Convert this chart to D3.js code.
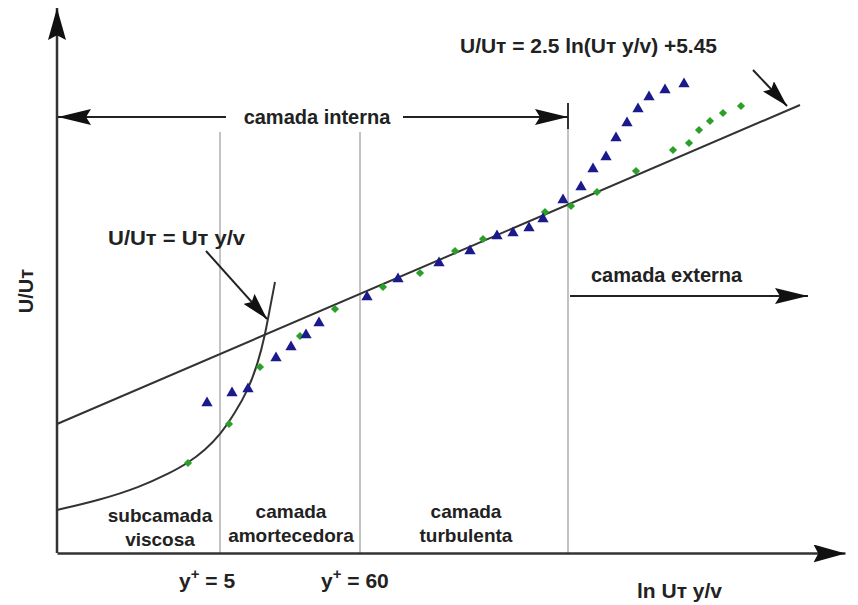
<!DOCTYPE html>
<html>
<meta charset="utf-8">
<style>
  body { margin: 0; background: #fff; }
  text {
    font-family: "Liberation Sans", Arial, sans-serif;
    font-weight: bold;
    font-size: 19px;
    fill: #222;
  }
  .axis path { stroke: #333; stroke-width: 2.5; }
  .zone { stroke: #b4b4b4; stroke-width: 1.6; }
  .law { fill: none; stroke: #333; stroke-width: 2; }
  .tri { fill: #1a1a8c; }
  .dia { fill: #2aa02a; }
</style>

<body>
  <script src="https://d3js.org/d3.v7.min.js"></script>

  <script>
    // measured series (x = ln Ut y/v, y = U/Ut, schematic units)
    let triX = [3.00, 3.50, 3.82, 4.38, 4.68, 4.98, 5.24, 6.20, 6.82, 7.64, 8.26, 8.80, 9.12, 9.44, 9.72,
      10.12, 10.48, 10.72, 10.98, 11.18, 11.40, 11.62, 11.84, 12.16, 12.54];
    let triY = [7.50, 8.00, 8.20, 9.75, 10.30, 10.90, 11.50, 12.80, 13.70, 14.50, 15.10, 15.85, 16.00, 16.25, 16.70,
      17.65, 18.30, 19.20, 19.80, 20.75, 21.50, 22.20, 22.80, 23.15, 23.45];

    let diaX = [2.62, 3.44, 4.06, 4.86, 5.56, 6.52, 7.26, 7.96, 8.52, 9.76, 10.28, 10.80, 11.58, 12.32, 12.64,
      12.84, 13.06, 13.32, 13.68];
    let diaY = [4.50, 6.45, 9.30, 10.85, 12.20, 13.30, 14.00, 15.10, 15.70, 17.05, 17.35, 18.05, 19.10, 20.15, 20.50,
      21.15, 21.60, 22.00, 22.35];

    // log law line end points
    let logX = [0, 14.86];
    let logY = [6.45, 22.4];

    // viscous sublayer curve
    let viscX = [0, 0.86, 1.66, 2.26, 2.62, 2.96, 3.26, 3.56, 3.82, 4.02, 4.16, 4.26, 4.36];
    let viscY = [2.15, 2.65, 3.30, 4.00, 4.50, 5.15, 5.90, 7.00, 8.15, 9.50, 10.90, 12.25, 13.55];

    // zone borders (y+ = 5, y+ = 60, edge of inner layer)
    let zoneX = [3.26, 6.06, 10.22];
    let zoneTop = [21.05, 21.05, 22.5];

    let zoneNames = [["subcamada", "viscosa"], ["camada", "amortecedora"], ["camada", "turbulenta"]];
    let yPlusLabels = ["5", "60"];

    let width = 858,
      height = 605;

    let x = d3.scaleLinear().domain([0, 15.76]).range([57, 845]);
    let y = d3.scaleLinear().domain([0, 27.25]).range([553, 8]);

    let svg = d3.select("body").append("svg")
      .attr("width", width)
      .attr("height", height);

    let defs = svg.append("defs");
    function marker(id, len, half) {
      defs.append("marker")
        .attr("id", id)
        .attr("markerUnits", "userSpaceOnUse")
        .attr("viewBox", `0 ${-half} ${len} ${half * 2}`)
        .attr("refX", len)
        .attr("refY", 0)
        .attr("markerWidth", len)
        .attr("markerHeight", half * 2)
        .attr("orient", "auto")
        .append("path")
        .attr("d", `M0,${-half}L${len},0L0,${half}L${len * 0.15},0Z`)
        .attr("fill", "#111");
    }
    marker("axisHead", 32, 9);
    marker("head", 33, 8);
    marker("callHead", 27, 7.5);

    // zone borders
    svg.selectAll(".zone")
      .data(zoneX)
      .join("line")
      .attr("class", "zone")
      .attr("x1", d => x(d))
      .attr("x2", d => x(d))
      .attr("y1", (d, i) => y(zoneTop[i]))
      .attr("y2", y(0));

    // dark tick on top of the inner layer edge
    svg.append("line")
      .attr("x1", x(zoneX[2])).attr("x2", x(zoneX[2]))
      .attr("y1", y(zoneTop[2])).attr("y2", y(zoneTop[2]) + 26)
      .attr("stroke", "#333").attr("stroke-width", 2);

    // axes, no ticks, arrow at the end
    let xAxis = svg.append("g")
      .attr("class", "axis")
      .attr("transform", `translate(0,${y(0)})`)
      .call(d3.axisBottom(x).tickValues([]).tickSizeOuter(0));
    xAxis.select(".domain").attr("marker-end", "url(#axisHead)");

    let yAxis = svg.append("g")
      .attr("class", "axis")
      .attr("transform", `translate(${x(0)},0)`)
      .call(d3.axisLeft(y).tickValues([]).tickSizeOuter(0));
    yAxis.select(".domain")
      .attr("d", `M0,${y(0)}V${y(27.25)}`)
      .attr("marker-end", "url(#axisHead)");

    // log law and viscous law
    let line = d3.line().x(d => x(d[0])).y(d => y(d[1]));
    svg.append("path")
      .attr("class", "law")
      .attr("d", line(d3.zip(logX, logY)));
    svg.append("path")
      .attr("class", "law")
      .attr("d", line.curve(d3.curveBasis)(d3.zip(viscX, viscY)));

    // data points
    svg.selectAll(".dia")
      .data(d3.zip(diaX, diaY))
      .join("path")
      .attr("class", "dia")
      .attr("d", d3.symbol(d3.symbolSquare, 34))
      .attr("transform", d => `translate(${x(d[0])},${y(d[1])}) rotate(45)`);

    svg.selectAll(".tri")
      .data(d3.zip(triX, triY))
      .join("path")
      .attr("class", "tri")
      .attr("d", d3.symbol(d3.symbolTriangle, 55))
      .attr("transform", d => `translate(${x(d[0])},${y(d[1])})`);

    // camada interna arrows
    let innerY = 117;
    svg.append("line")
      .attr("x1", 226).attr("x2", x(0) + 1)
      .attr("y1", innerY).attr("y2", innerY)
      .attr("stroke", "#222").attr("stroke-width", 2)
      .attr("marker-end", "url(#head)");
    svg.append("line")
      .attr("x1", 403).attr("x2", x(zoneX[2]))
      .attr("y1", innerY).attr("y2", innerY)
      .attr("stroke", "#222").attr("stroke-width", 2)
      .attr("marker-end", "url(#head)");
    svg.append("text")
      .attr("x", 317).attr("y", innerY + 7)
      .attr("text-anchor", "middle")
      .style("font-size", "20px")
      .text("camada interna");

    // camada externa arrow
    svg.append("line")
      .attr("x1", x(zoneX[2]) + 2).attr("x2", 808)
      .attr("y1", 296).attr("y2", 296)
      .attr("stroke", "#222").attr("stroke-width", 2)
      .attr("marker-end", "url(#head)");
    svg.append("text")
      .attr("x", 591).attr("y", 282)
      .style("font-size", "20px")
      .text("camada externa");

    // callouts
    svg.append("text")
      .attr("x", 108).attr("y", 245)
      .style("font-size", "21px")
      .attr("textLength", 137).attr("lengthAdjust", "spacingAndGlyphs")
      .text("U/Uт = Uт y/v");
    svg.append("line")
      .attr("x1", 206).attr("y1", 251)
      .attr("x2", 267).attr("y2", 319)
      .attr("stroke", "#222").attr("stroke-width", 2)
      .attr("marker-end", "url(#callHead)");

    svg.append("text")
      .attr("x", 460).attr("y", 53)
      .style("font-size", "21px")
      .attr("textLength", 257).attr("lengthAdjust", "spacingAndGlyphs")
      .text("U/Uт = 2.5 ln(Uт y/v) +5.45");
    svg.append("line")
      .attr("x1", 753).attr("y1", 70)
      .attr("x2", 787).attr("y2", 106)
      .attr("stroke", "#222").attr("stroke-width", 2)
      .attr("marker-end", "url(#callHead)");

    // zone names
    let zoneCx = [160, 291, 466];
    let zoneBase = [522, 518, 518];
    zoneNames.forEach((lines, i) => {
      lines.forEach((t, j) => {
        svg.append("text")
          .attr("x", zoneCx[i])
          .attr("y", zoneBase[i] + j * 24)
          .attr("text-anchor", "middle")
          .text(t);
      });
    });

    // y+ labels below the axis
    let yPlusLeft = [179, 321];
    yPlusLabels.forEach((v, i) => {
      let t = svg.append("text")
        .attr("x", yPlusLeft[i])
        .attr("y", 588)
        .style("font-size", "21px");
      t.append("tspan").text("y");
      t.append("tspan").attr("dy", -9).attr("font-size", 15).text("+");
      t.append("tspan").attr("dy", 9).text(" = " + v);
    });

    // axis titles
    svg.append("text")
      .attr("x", 637).attr("y", 598)
      .style("font-size", "21px")
      .text("ln Uт y/v");
    svg.append("text")
      .attr("transform", "translate(33,291) rotate(-90)")
      .attr("text-anchor", "middle")
      .style("font-size", "20px")
      .text("U/Uт");
  </script>

</body>

</html>
